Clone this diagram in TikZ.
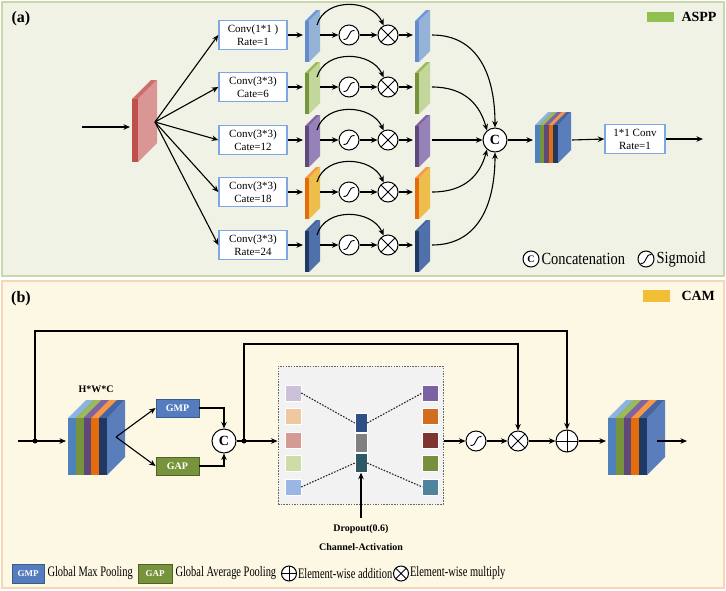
\documentclass[tikz,border=0pt]{standalone}
\usepackage{fontspec}
\setmainfont{Liberation Serif}
\newfontfamily\legA[FakeStretch=0.85]{Liberation Serif}
\newfontfamily\legB[FakeStretch=0.72]{Liberation Serif}
\usetikzlibrary{arrows.meta,calc}
\definecolor{pAbg}{RGB}{239,242,229}
\definecolor{pAbd}{RGB}{200,216,170}
\definecolor{pBbg}{RGB}{253,248,228}
\definecolor{pBbd}{RGB}{245,214,182}
\definecolor{convbd}{RGB}{126,166,224}
\definecolor{asppG}{RGB}{146,192,80}
\definecolor{camY}{RGB}{242,190,53}
\definecolor{redS}{RGB}{192,80,77}
\definecolor{redF}{RGB}{217,150,148}
\definecolor{redT}{RGB}{205,110,106}
\definecolor{blS}{RGB}{100,140,205}
\definecolor{blF}{RGB}{149,179,215}
\definecolor{blT}{RGB}{110,150,220}
\definecolor{grS}{RGB}{119,147,60}
\definecolor{grF}{RGB}{195,214,155}
\definecolor{grT}{RGB}{155,187,89}
\definecolor{puS}{RGB}{95,73,122}
\definecolor{puF}{RGB}{150,130,185}
\definecolor{puT}{RGB}{128,100,162}
\definecolor{orS}{RGB}{228,108,10}
\definecolor{orF}{RGB}{237,190,76}
\definecolor{orT}{RGB}{247,150,70}
\definecolor{nvS}{RGB}{31,56,100}
\definecolor{nvF}{RGB}{80,112,170}
\definecolor{nvT}{RGB}{70,100,160}
\definecolor{l1S}{RGB}{79,129,189}
\definecolor{l1T}{RGB}{141,179,226}
\definecolor{stF}{RGB}{90,126,188}
\definecolor{gmpF}{RGB}{84,124,190}
\definecolor{gmpD}{RGB}{56,93,138}
\definecolor{gapF}{RGB}{119,147,60}
\definecolor{gapD}{RGB}{79,98,40}
\definecolor{sqLa}{RGB}{204,193,218}
\definecolor{sqLb}{RGB}{240,200,160}
\definecolor{sqLc}{RGB}{212,154,148}
\definecolor{sqLd}{RGB}{207,220,168}
\definecolor{sqLe}{RGB}{154,182,228}
\definecolor{sqRa}{RGB}{123,98,162}
\definecolor{sqRb}{RGB}{210,108,31}
\definecolor{sqRc}{RGB}{126,53,48}
\definecolor{sqRd}{RGB}{122,143,61}
\definecolor{sqRe}{RGB}{79,132,156}
\definecolor{kA}{RGB}{47,78,133}
\definecolor{kB}{RGB}{128,128,128}
\definecolor{kC}{RGB}{46,88,102}
% #1 x, #2 ytop, #3 strip width, #4 height, #5 depth, #6 strip, #7 face, #8 top
\newcommand\slab[8]{%
  \fill[#8] (#1,#2) -- ++(#5,-#5) -- ++(#3,0) -- ++(-#5,#5) -- cycle;
  \fill[#7] (#1+#3,#2) -- ++(#5,-#5) -- ++(0,#4) -- ++(-#5,#5) -- cycle;
  \fill[#6] (#1,#2) rectangle ++(#3,#4);
}
\begin{document}
\begin{tikzpicture}[x=1pt,y=-1pt,line width=1pt,
  >={Stealth[length=6.5pt,width=5.5pt]},
  arr/.style={->,line width=1.1pt},
  convbox/.style={draw=convbd,line width=1.4pt,fill=white,minimum width=68pt,minimum height=29pt,inner sep=1pt,align=center,font=\fontsize{11}{13}\selectfont},
  opc/.style={circle,draw,line width=1pt,fill=white,inner sep=0pt,minimum size=#1},
  sig/.style={opc=#1,path picture={\draw[line width=0.9pt] ([shift={(-5.5,4.5)}]path picture bounding box.center) .. controls ([shift={(1.5,5)}]path picture bounding box.center) and ([shift={(-1.5,-5)}]path picture bounding box.center) .. ([shift={(5.5,-4.5)}]path picture bounding box.center);}},
  sig/.default=20pt,
  mul/.style={opc=#1,path picture={\draw[line width=0.9pt] (path picture bounding box.north west)--(path picture bounding box.south east) (path picture bounding box.north east)--(path picture bounding box.south west);}},
  mul/.default=20pt,
  plus/.style={opc=#1,path picture={\draw[line width=0.9pt] (path picture bounding box.north)--(path picture bounding box.south) (path picture bounding box.east)--(path picture bounding box.west);}},
  plus/.default=22pt,
  cat/.style={opc=#1,font=\bfseries\fontsize{14}{14}\selectfont},
  cat/.default=24pt,
  dot/.style={circle,fill,inner sep=0pt,minimum size=5pt},
  gmpbox/.style={draw=gmpD,fill=gmpF,line width=0.8pt,text=white,font=\bfseries\fontsize{10}{10}\selectfont,minimum width=43pt,minimum height=18pt,inner sep=0pt},
  gapbox/.style={draw=gapD,fill=gapF,line width=0.8pt,text=white,font=\bfseries\fontsize{10}{10}\selectfont,minimum width=43pt,minimum height=18pt,inner sep=0pt},
  sq/.style={draw=white,line width=0.4pt,minimum size=16pt,inner sep=0pt},
  kb/.style={draw=white,line width=0.4pt,minimum width=12pt,minimum height=19pt,inner sep=0pt},
  dotline/.style={dash pattern=on 1.6pt off 1.4pt,line width=1.1pt,black!85},
  legA/.style={anchor=west,inner sep=0pt,font=\legA\fontsize{17}{17}\selectfont},
  legB/.style={anchor=west,inner sep=0pt,font=\legB\fontsize{14.5}{14.5}\selectfont},
  title/.style={font=\bfseries\fontsize{16}{16}\selectfont,inner sep=0pt},
  bold10/.style={font=\bfseries\fontsize{10}{10}\selectfont,inner sep=0pt}
]
\path[use as bounding box] (0,0) rectangle (726,590);
% panels
\draw[fill=pAbg,draw=pAbd,line width=1.5pt] (2,2) rectangle (724,276);
\draw[fill=pBbg,draw=pBbd,line width=1.5pt] (2,281) rectangle (724,588);
\node[title] (la) at (21,19) {(a)};
\node[title] (lb) at (21,299) {(b)};
% ASPP legend
\fill[asppG] (647,12) rectangle (674,22);
\node[anchor=west,inner sep=0pt,font=\bfseries\fontsize{14}{14}\selectfont] (aspp) at (681,17) {ASPP};
% input slab
\coordinate (ain) at (82,127);
\slab{132}{99}{6}{63}{19}{redS}{redF}{redT}
\coordinate (redin) at (130,127);
\coordinate (redout) at (155,122);
\draw[arr] (ain) -- (redin);
% branches
\foreach \i/\y/\ta/\tb/\cs/\cf/\ct in {
  1/35/{Conv(1*1 )}/{Rate=1}/blS/blF/blT,
  2/87/{Conv(3*3)}/{Cate=6}/grS/grF/grT,
  3/140/{Conv(3*3)}/{Cate=12}/puS/puF/puT,
  4/192/{Conv(3*3)}/{Cate=18}/orS/orF/orT,
  5/245/{Conv(3*3)}/{Rate=24}/nvS/nvF/nvT}{
  \node[convbox] (c\i) at (253,\y) {\ta\\\tb};
  \draw[arr] (redout) -- (c\i.west);
  \slab{305}{\y-14}{4}{41}{11}{\cs}{\cf}{\ct}
  \coordinate (sa\i) at (303,\y);
  \coordinate (sb\i) at (320,\y);
  \coordinate (st\i) at (317,\y-10);
  \node[sig] (g\i) at (349,\y) {};
  \node[mul] (m\i) at (388,\y) {};
  \slab{415}{\y-14}{4}{41}{11}{\cs}{\cf}{\ct}
  \coordinate (ta\i) at (413,\y);
  \coordinate (tb\i) at (432,\y);
  \draw[arr] (c\i.east) -- (sa\i);
  \draw[arr] (sb\i) -- (g\i);
  \draw[arr] (g\i) -- (m\i);
  \draw[arr] (m\i) -- (ta\i);
  \draw[arr] (st\i) .. controls (325,\y-38) and (372,\y-36) .. (m\i.115);
}
\node[cat] (cc) at (495,140) {C};
\draw[arr] (tb1) .. controls (478,35) and (495,75) .. (cc.north);
\draw[arr] (tb2) .. controls (465,87) and (480,105) .. (cc.130);
\draw[arr] (tb3) -- (cc.west);
\draw[arr] (tb4) .. controls (465,192) and (480,175) .. (cc.230);
\draw[arr] (tb5) .. controls (478,245) and (495,205) .. (cc.south);
% concatenated stack
\foreach \k/\cs/\ct in {0/l1S/l1T,1/grS/grT,2/puS/puT,3/orS/orT,4/nvS/nvT}{
  \slab{535+\k*4.6}{125}{4.6}{38}{13}{\cs}{stF}{\ct}
}
\coordinate (astin) at (533,140);
\coordinate (astout) at (572,140);
\draw[arr] (cc) -- (astin);
\node[convbox,minimum width=60pt] (c6) at (635,139) {1*1 Conv\\Rate=1};
\draw[arr] (astout) -- (c6.west);
\coordinate (aout) at (703,139);
\draw[arr] (c6.east) -- (aout);
% legend a
\node[cat=16pt,font=\bfseries\fontsize{10}{10}\selectfont] (lgc) at (531,259) {C};
\node[legA] (lgct) at (541,259) {Concatenation};
\node[sig=16pt] (lgs) at (646,259) {};
\node[legA] (lgst) at (656,259) {Sigmoid};
% ---------------- panel b
\fill[camY] (643,290) rectangle (670,302);
\node[anchor=west,inner sep=0pt,font=\bfseries\fontsize{14}{14}\selectfont] (cam) at (681,296) {CAM};
\coordinate (bin) at (18,441);
\node[dot] (d1) at (35,441) {};
\foreach \k/\cs/\ct in {0/l1S/l1T,1/grS/grT,2/puS/puT,3/orS/orT,4/nvS/nvT}{
  \slab{68+\k*7.8}{418}{7.8}{57}{18}{\cs}{stF}{\ct}
}
\coordinate (b1in) at (66,441);
\draw[arr] (bin) -- (b1in);
\node[bold10] (hwc) at (96,389) {H*W*C};
\coordinate (fan) at (116,437);
\node[gmpbox] (gmp) at (177.5,408) {GMP};
\node[gapbox] (gap) at (177.5,466) {GAP};
\draw[arr] (fan) -- (gmp.west);
\draw[arr] (fan) -- (gap.west);
\node[cat] (c2) at (224,441) {C};
\draw[arr] (gmp.east) -| (c2.north);
\draw[arr] (gap.east) -| (c2.south);
\node[dot] (d2) at (244,441) {};
\node[draw=black!60,dash pattern=on 1.5pt off 1.2pt,line width=1pt,fill=black!5,minimum width=165pt,minimum height=138pt,inner sep=0pt] (cab) at (360.5,435) {};
\draw[arr] (c2.east) -- (cab.west |- c2.east);
\foreach \j/\yy/\cl/\cr in {1/393/sqLa/sqRa,2/416/sqLb/sqRb,3/440/sqLc/sqRc,4/463/sqLd/sqRd,5/487/sqLe/sqRe}{
  \node[sq,fill=\cl] (l\j) at (293,\yy) {};
  \node[sq,fill=\cr] (r\j) at (430.5,\yy) {};
}
\node[kb,fill=kA] (k1) at (361,423) {};
\node[kb,fill=kB] (k2) at (361,443) {};
\node[kb,fill=kC] (k3) at (361,463) {};
\draw[dotline] (l1.east) -- (k1.west);
\draw[dotline] (k1.east) -- (r1.west);
\draw[dotline] (l5.east) -- (k3.west);
\draw[dotline] (k3.east) -- (r5.west);
\coordinate (dr) at (361,518);
\draw[arr] (dr) -- (k3.south);
\node[bold10] (dt) at (361,529) {Dropout(0.6)};
\node[bold10] (cat2) at (361,547) {Channel-Activation};
\node[sig] (g6) at (476,441) {};
\node[mul] (m6) at (518,441) {};
\node[plus] (p6) at (567,441) {};
\draw[arr] (cab.east |- g6) -- (g6);
\draw[arr] (g6) -- (m6);
\draw[arr] (m6) -- (p6);
\foreach \k/\cs/\ct in {0/l1S/l1T,1/grS/grT,2/puS/puT,3/orS/orT,4/nvS/nvT}{
  \slab{608+\k*7.8}{418}{7.8}{57}{18}{\cs}{stF}{\ct}
}
\coordinate (b2in) at (606,441);
\draw[arr] (p6) -- (b2in);
\coordinate (b2out) at (657,441);
\coordinate (bout) at (687,441);
\draw[arr] (b2out) -- (bout);
% skip connections
\coordinate (ska) at (35,331);
\draw[arr] (d1.center) -- (ska) -| (p6.north);
\coordinate (skb) at (244,344);
\draw[arr] (d2.center) -- (skb) -| (m6.north);
% legend b
\node[gmpbox,minimum width=32pt,minimum height=19pt,font=\bfseries\fontsize{9}{9}\selectfont] (lg1) at (28,573.5) {GMP};
\node[legB] (lg1t) at (47,573.5) {Global Max Pooling};
\node[gapbox,minimum width=34pt,minimum height=19pt,font=\bfseries\fontsize{9}{9}\selectfont] (lg2) at (155,573.5) {GAP};
\node[legB] (lg2t) at (175,573.5) {Global Average Pooling};
\node[plus=15pt] (lg3) at (289,573.5) {};
\node[legB] (lg3t) at (297.5,573.5) {Element-wise addition};
\node[mul=15pt] (lg4) at (401,573.5) {};
\node[legB] (lg4t) at (409.5,573.5) {Element-wise multiply};
\end{tikzpicture}
\end{document}
